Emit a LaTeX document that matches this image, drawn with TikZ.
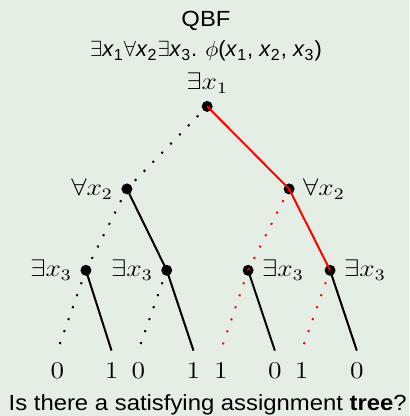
\documentclass[tikz,border=0pt]{standalone}
\usepackage{fontspec}
\setmainfont{Liberation Sans}
\usepackage{tikz}
\usepackage{xcolor}

\definecolor{slidebg}{RGB}{229,238,229}
\newcommand{\qx}[1]{\textit{x}\textsubscript{#1}}

\begin{document}
\begin{tikzpicture}[
    var/.style={circle, fill=black, inner sep=0pt, minimum size=5.5pt},
    leaf/.style={minimum height=20pt, inner sep=0pt, font=\large, xscale=1.15},
    zero/.style={line width=1pt, dash pattern=on 1pt off 5.35pt},
    one/.style={line width=1pt},
    every label/.style={font=\large, xscale=1.15},
    caption/.style={anchor=base, font=\fontsize{10.95}{13}\selectfont}
]
    % Slide background
    \fill[slidebg] (0,0) rectangle (7.19,7.31);
    \useasboundingbox (0,0) rectangle (7.19,7.31);

    % Heading
    \node[caption, xscale=1.09] (title) at (3.62,6.84) {QBF};
    \node[caption] (formula) at (3.62,6.31)
        {$\exists$\qx{1}$\forall$\qx{2}$\exists$\qx{3}. $\phi$(\qx{1}, \qx{2}, \qx{3})};

    % The quantifier nodes
    \node[var, label=above:{$\exists x_1$}] (r) at (3.64,5.44) {};
    \node[var, label=left:{$\forall x_2$}] (a0) at (2.23,3.99) {};
    \node[var, label=right:{$\forall x_2$}] (a1) at (5.08,3.99) {};
    \node[var, label=left:{$\exists x_3$}] (e00) at (1.51,2.56) {};
    \node[var, label=left:{$\exists x_3$}] (e01) at (2.93,2.56) {};
    \node[var, label=right:{$\exists x_3$}] (e10) at (4.36,2.56) {};
    \node[var, label=right:{$\exists x_3$}] (e11) at (5.80,2.56) {};

    % Truth values at the leaves
    \node[leaf] (v000) at (1.01,0.79) {$0$};
    \node[leaf] (v001) at (1.96,0.79) {$1$};
    \node[leaf] (v010) at (2.43,0.79) {$0$};
    \node[leaf] (v011) at (3.40,0.79) {$1$};
    \node[leaf] (v100) at (3.88,0.79) {$1$};
    \node[leaf] (v101) at (4.83,0.79) {$0$};
    \node[leaf] (v110) at (5.30,0.79) {$1$};
    \node[leaf] (v111) at (6.27,0.79) {$0$};

    % Branches (dotted = 0, solid = 1)
    \draw[zero] (r.center) -- (a0.center);
    \draw[one, red] (r.center) -- (a1.center);
    \draw[zero] (a0.center) -- (e00.center);
    \draw[one] (a0.center) -- (e01.center);
    \draw[zero, red] (a1.center) -- (e10.center);
    \draw[one, red] (a1.center) -- (e11.center);

    \draw[zero] (e00.center) -- (v000.north);
    \draw[one] (e00.center) -- (v001.north);
    \draw[zero] (e01.center) -- (v010.north);
    \draw[one] (e01.center) -- (v011.north);
    \draw[zero, red] (e10.center) -- (v100.north);
    \draw[one] (e10.center) -- (v101.north);
    \draw[zero, red] (e11.center) -- (v110.north);
    \draw[one] (e11.center) -- (v111.north);

    % Question
    \node[caption, xscale=1.09] (question) at (3.65,0.09)
        {Is there a satisfying assignment \textbf{tree}?};
\end{tikzpicture}
\end{document}
